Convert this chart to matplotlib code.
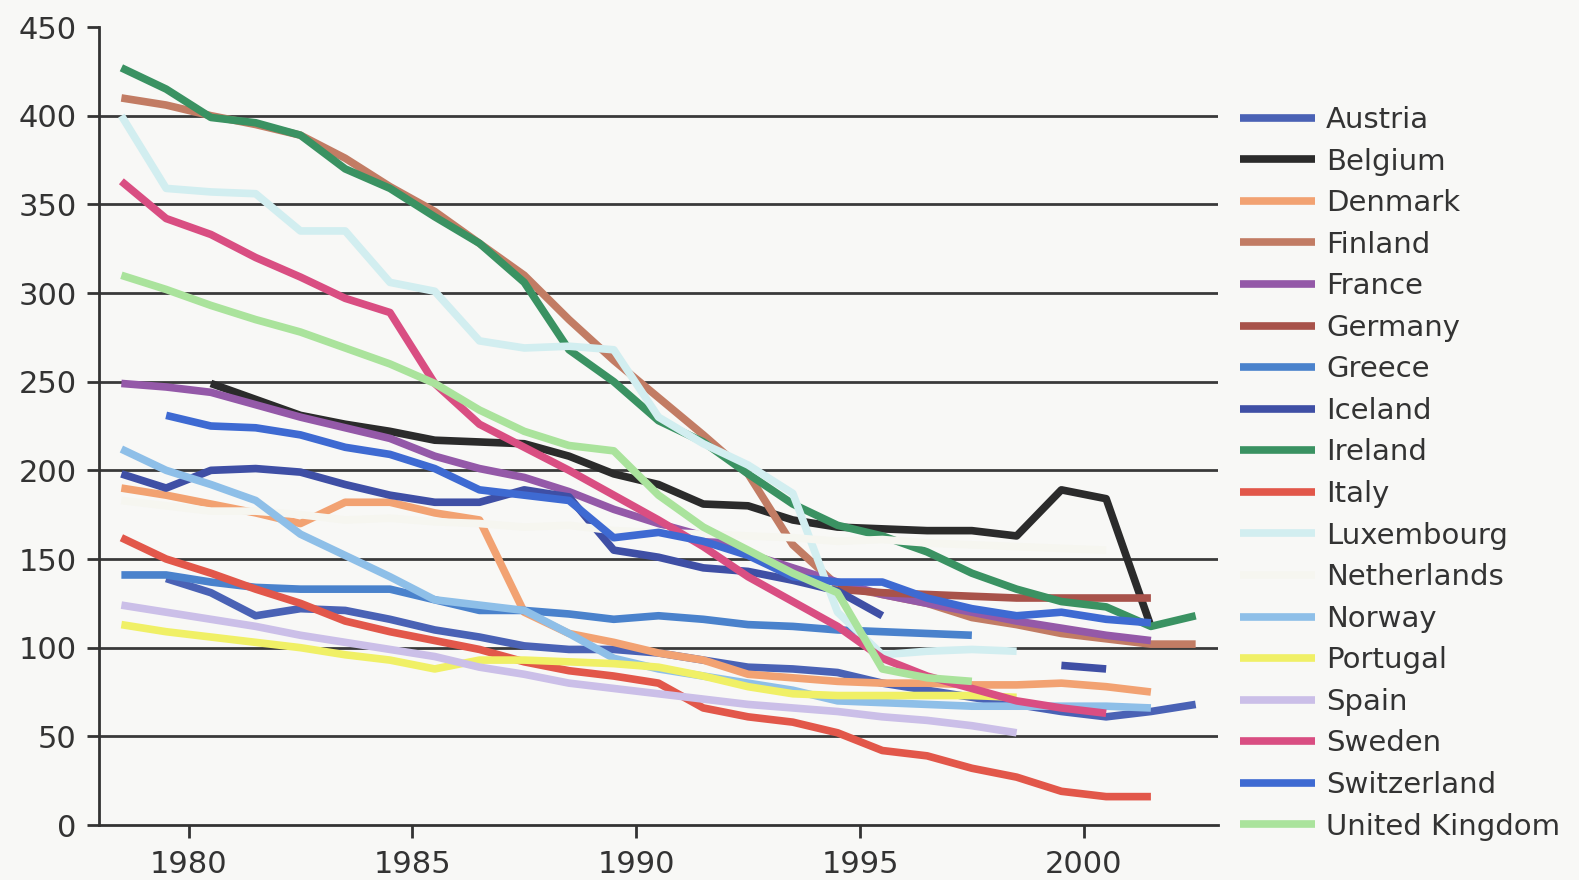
import numpy as np
import matplotlib
matplotlib.use('Agg')
from matplotlib import pyplot as plt

nan = np.nan

''' data, read off the scanned chart (one value per year, 1978-2002) '''
years = list(range(1978, 2003))

countries = ['Austria', 'Belgium', 'Denmark', 'Finland', 'France', 'Germany', 'Greece',
  'Iceland', 'Ireland', 'Italy', 'Luxembourg', 'Netherlands', 'Norway', 'Portugal',
  'Spain', 'Sweden', 'Switzerland', 'United Kingdom']

austria = [nan, 139, 131, 118, 122, 121, 116, 110, 106, 101, 99, 99, 97, 93, 89, 88, 86, 80, 76, 72, 68, 64, 61, 64, 68]
belgium = [nan, nan, 249, 240, 231, 226, 222, 217, 216, 215, 208, 198, 192, 181, 180, 172, 168, 167, 166, 166, 163, 189, 184, 112, nan]
denmark = [190, 186, 181, 176, 170, 182, 182, 176, 172, 120, 108, 103, 97, 93, 85, 83, 81, 80, 80, 79, 79, 80, 78, 75, nan]
finland = [410, 406, 400, 395, 389, 376, 360, 346, 328, 310, 285, 262, 241, 220, 198, 158, 135, 130, 125, 117, 113, 108, 105, 102, 102]
france = [249, 247, 244, 237, 230, 224, 218, 208, 201, 196, 188, 178, 170, 163, 153, 145, 137, 130, 125, 120, 115, 111, 107, 104, nan]
germany = [nan]*16 + [133, 131, 130, 129, 128, 128, 128, 128, nan]
greece = [141, 141, 137, 134, 133, 133, 133, 127, 121, 121, 119, 116, 118, 116, 113, 112, 110, 109, 108, 107, nan, nan, nan, nan, nan]
iceland = [198, 190, 200, 201, 199, 192, 186, 182, 182, 189, 185, 155, 151, 145, 143, 138, 132, 118, nan, nan, nan, 90, 88, nan, nan]
ireland = [427, 415, 399, 396, 389, 370, 359, 343, 328, 306, 268, 250, 228, 216, 198, 181, 169, 163, 154, 142, 133, 126, 123, 112, 118]
italy = [162, 150, 142, 133, 125, 115, 109, 104, 99, 92, 87, 84, 80, 66, 61, 58, 52, 42, 39, 32, 27, 19, 16, 16, nan]
luxembourg = [400, 359, 357, 356, 335, 335, 306, 301, 273, 269, 270, 268, 230, 215, 203, 187, 120, 96, 98, 99, 98, nan, nan, nan, nan]
netherlands = [183, 180, 177, 177, 175, 172, 173, 171, 170, 168, 169, 166, 165, 164, 163, 162, 160, 161, 159, 158, 157, 156, 155, nan, nan]
norway = [212, 200, 192, 183, 164, 152, 140, 127, 124, 121, 108, 94, 88, 84, 80, 76, 70, 69, 68, 67, 67, 67, 67, 66, nan]
portugal = [113, 109, 106, 103, 100, 96, 93, 88, 93, 93, 92, 91, 89, 84, 78, 74, 73, 73, 73, 73, 72, nan, nan, nan, nan]
spain = [124, 120, 116, 112, 107, 103, 99, 95, 89, 85, 80, 77, 74, 71, 68, 66, 64, 61, 59, 56, 52, nan, nan, nan, nan]
sweden = [363, 342, 333, 320, 309, 297, 289, 249, 226, 213, 200, 186, 172, 157, 140, 126, 112, 94, 84, 77, 70, 66, 63, nan, nan]
switzerland = [nan, 231, 225, 224, 220, 213, 209, 201, 189, 186, 183, 162, 165, 160, 152, 140, 137, 137, 128, 122, 118, 120, 116, 114, nan]
uk = [310, 302, 293, 285, 278, 269, 260, 249, 234, 222, 214, 211, 186, 168, 155, 142, 131, 88, 83, 81, nan, nan, nan, nan, nan]

series = [austria, belgium, denmark, finland, france, germany, greece, iceland, ireland,
  italy, luxembourg, netherlands, norway, portugal, spain, sweden, switzerland, uk]

colors = ['#4a62b5', '#2b2b2b', '#f2a272', '#c27c64', '#9459a8', '#a8524a', '#4a82cc',
  '#3f4fa5', '#3a9262', '#e2574a', '#d2eef0', '#f6f6f0', '#8ebfe8', '#f0f066',
  '#cbbfe8', '#d94e82', '#3e6ad2', '#aae39c']

''' matplotlib config '''
plt.rcParams['font.family'] = 'DejaVu Sans'
txt = '#333333'

fig = plt.figure(figsize=(15.79, 8.80), dpi=100, facecolor='#f8f8f6')
ax = fig.add_axes([0.0627, 0.0625, 0.7087, 0.9068], facecolor='#f8f8f6')

# one category per year, drawn mid-slot like the spreadsheet did
x = np.asarray(years) + 0.5
for name, vals, c in zip(countries, series, colors):
  ax.plot(x, vals, color=c, lw=5.5, solid_capstyle='butt', solid_joinstyle='round',
    label=name, zorder=3)

ax.set_xlim(1978, 2003)
ax.set_ylim(0, 450)
ax.set_yticks(range(0, 451, 50))
ax.set_xticks(range(1980, 2001, 5))
ax.hlines(range(50, 401, 50), 1978, 2003, color='#3a3a3a', lw=2, zorder=1)

for s in ['top', 'right']:
  ax.spines[s].set_visible(False)
for s in ['left', 'bottom']:
  ax.spines[s].set_color('#333333')
  ax.spines[s].set_linewidth(2)
ax.tick_params(axis='both', labelsize=22, colors=txt, length=9, width=2, direction='out')
ax.tick_params(axis='y', pad=7)
ax.tick_params(axis='x', pad=9)

leg = fig.legend(loc='upper left', bbox_to_anchor=(1240/1579, 1 - 106/880), frameon=False,
  fontsize=21, handlelength=2.57, handletextpad=0.38, labelspacing=0.465, borderpad=0,
  borderaxespad=0)
for t in leg.get_texts():
  t.set_color(txt)

fig.savefig('out.png', dpi=100, facecolor=fig.get_facecolor())

# EOF
